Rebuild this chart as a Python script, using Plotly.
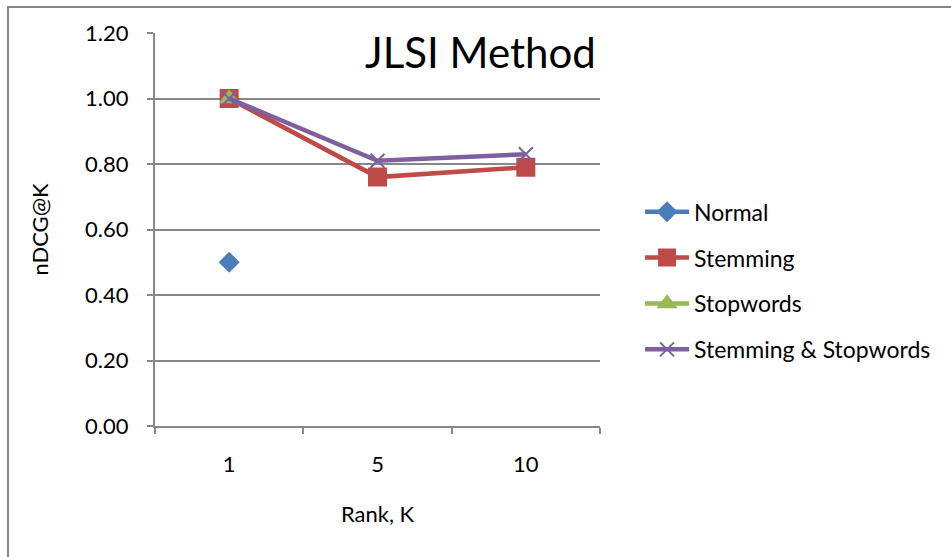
import plotly.graph_objects as go

# nDCG@K for the JLSI method at each rank cutoff
ranks = ["1", "5", "10"]
normal = [0.50, None, None]
stemming = [1.00, 0.76, 0.79]
stopwords = [1.00, None, None]
stem_stop = [1.00, 0.81, 0.83]

series = [
    ("Normal", normal, "#4A7EBB", "diamond", 14),
    ("Stemming", stemming, "#BE4B48", "square", 17),
    ("Stopwords", stopwords, "#98B954", "triangle-up", 15),
    ("Stemming & Stopwords", stem_stop, "#7D60A0", "x-thin-open", 14),
]

FONT = "Lato, 'Open Sans', sans-serif"
GRID = "#878787"

fig = go.Figure()
for i, (name, vals, color, sym, size) in enumerate(series):
    fig.add_trace(go.Scatter(
        x=ranks, y=vals, name=name, mode="lines+markers",
        line=dict(color=color, width=4.5),
        marker=dict(symbol=sym, size=size, color=color,
                    line=dict(color=color, width=2)),
        legendgroup=f"g{i}",
        connectgaps=False,
    ))

fig.add_annotation(
    text="JLSI Method", xref="paper", yref="paper", x=0.995, y=0.952,
    xanchor="right", yanchor="middle", showarrow=False,
    font=dict(family=FONT, size=42, color="#000000"),
)

# outer chart border
fig.add_shape(type="rect", xref="paper", yref="paper",
              x0=(8 - 155) / 445, x1=(960 - 155) / 445,
              y0=(426 - 570) / 393, y1=(426 - 7) / 393,
              line=dict(color=GRID, width=2), fillcolor="rgba(0,0,0,0)",
              layer="below")

fig.update_layout(
    width=951, height=557,
    margin=dict(l=155, r=351, t=33, b=131),
    paper_bgcolor="white", plot_bgcolor="white",
    font=dict(family=FONT, size=22, color="#000000"),
    showlegend=True,
    legend=dict(x=1.09, y=0.60, xanchor="left", yanchor="top",
                font=dict(size=23), tracegroupgap=13, itemwidth=44,
                bgcolor="rgba(0,0,0,0)"),
    xaxis=dict(
        type="category", range=[-0.5, 2.5], tickson="boundaries",
        ticks="outside", ticklen=6, tickcolor=GRID, tickwidth=1.5,
        showline=True, linecolor=GRID, linewidth=2, showgrid=False,
        ticklabelstandoff=18,
        title=dict(text="Rank, K", standoff=30, font=dict(size=22)),
    ),
    yaxis=dict(
        range=[0, 1.2], dtick=0.2, tickformat=".2f",
        ticks="outside", ticklen=6, tickcolor=GRID, tickwidth=1.5,
        showline=True, linecolor=GRID, linewidth=2,
        showgrid=True, gridcolor=GRID, gridwidth=1.5,
        zeroline=False, ticklabelstandoff=14,
        title=dict(text="nDCG@K", standoff=30, font=dict(size=22)),
    ),
)

fig.write_html("out.html")
